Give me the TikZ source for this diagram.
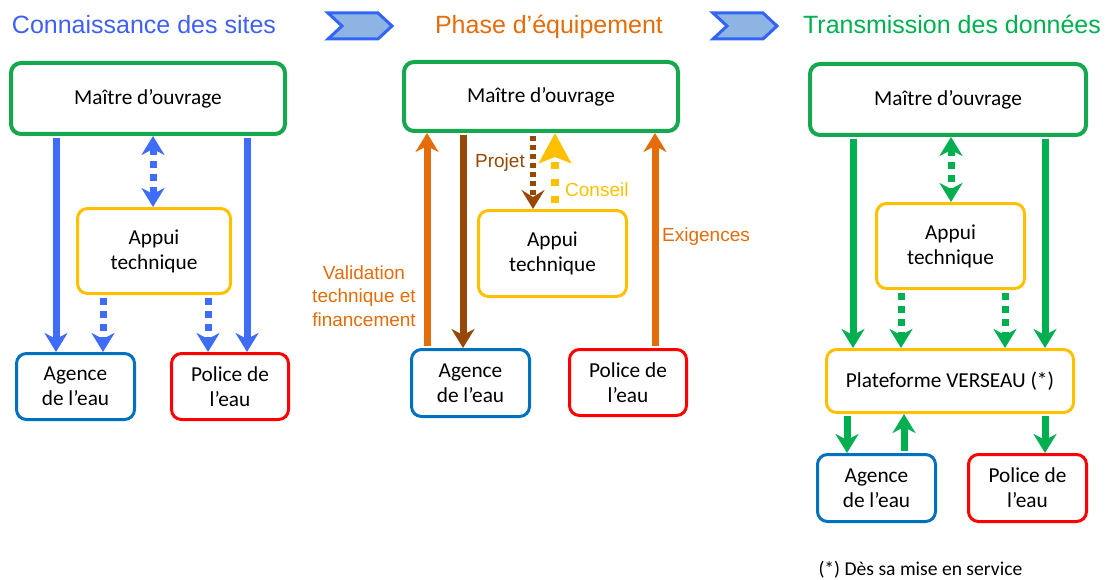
\documentclass[tikz,border=0pt]{standalone}
\usepackage{fontspec}
\setmainfont{Carlito}
\newfontfamily\arialf{Liberation Sans}
\usetikzlibrary{arrows.meta}

\definecolor{hblue}{RGB}{64,96,245}
\definecolor{chevfill}{RGB}{142,180,227}
\definecolor{chevline}{RGB}{50,100,245}
\definecolor{horange}{RGB}{228,108,10}
\definecolor{hgreen}{RGB}{0,176,80}
\definecolor{mgreen}{RGB}{22,168,78}
\definecolor{ayellow}{RGB}{255,192,0}
\definecolor{ablue}{RGB}{0,112,192}
\definecolor{ared}{RGB}{255,0,0}
\definecolor{arrblue}{RGB}{64,108,250}
\definecolor{abrown}{RGB}{151,72,6}

\tikzset{
  box/.style={draw, rounded corners=10pt, line width=3pt, fill=white, align=center,
    inner sep=0pt, font=\fontsize{21.3}{25}\selectfont},
  mbox/.style={box, draw=mgreen, line width=4pt},
  abox/.style={box, draw=ayellow},
  agbox/.style={box, draw=ablue},
  pobox/.style={box, draw=ared},
  header/.style={anchor=base, font=\arialf\fontsize{25}{30}\selectfont},
  lbl/.style={font=\arialf\fontsize{19}{23.5}\selectfont},
  chev/.style={fill=chevfill, draw=chevline, line width=3pt, line join=miter},
  hd/.tip={Stealth[length=19pt,width=23pt,inset=6pt]},
  solidarr/.style={line width=7pt, -{hd}, shorten <=2pt},
  dotarr/.style={line width=7pt, dash pattern=on 7pt off 6pt, -{hd}, shorten <=3pt},
  dotdbl/.style={line width=7pt, dash pattern=on 7pt off 6pt, {hd}-{hd}},
  footnote/.style={font=\fontsize{19.6}{24}\selectfont, anchor=west}
}

\begin{document}
\begin{tikzpicture}[x=1pt, y=-1pt]
\useasboundingbox (0,0) rectangle (1110,580);

% ---- headers and chevrons ----
\node[header, text=hblue] (h1) at (144,34) {Connaissance des sites};
\node[header, text=horange] (h2) at (549,34) {Phase d’équipement};
\node[header, text=hgreen] (h3) at (952,34) {Transmission des données};
\draw[chev] (328,13) -- (378,13) -- (392,26) -- (378,39) -- (328,39) -- (342,26) -- cycle;
\draw[chev] (713,13) -- (763,13) -- (777,26) -- (763,39) -- (713,39) -- (727,26) -- cycle;

% ---- column 1 ----
\node[mbox, minimum width=274pt, minimum height=71pt] (m1) at (148,98.5) {Maître d’ouvrage};
\node[abox, minimum width=153pt, minimum height=85pt] (ap1) at (154,251) {Appui\\technique};
\node[agbox, minimum width=118pt, minimum height=66pt] (ag1) at (75.5,386.5) {Agence\\de l’eau};
\node[pobox, minimum width=117pt, minimum height=66pt] (po1) at (230,386.5) {Police de\\l’eau};

\begin{scope}[arrblue]
\draw[solidarr] (m1.south -| 56,0) -- (ag1.north -| 56,0);
\draw[solidarr] (m1.south -| 247,0) -- (po1.north -| 247,0);
\draw[dotdbl] (m1.south -| 153,0) -- (ap1.north -| 153,0);
\draw[dotarr] (ap1.south -| 103,0) -- (ag1.north -| 103,0);
\draw[dotarr] (ap1.south -| 208,0) -- (po1.north -| 208,0);
\end{scope}

% ---- column 2 ----
\node[mbox, minimum width=274pt, minimum height=69pt] (m2) at (541,96.5) {Maître d’ouvrage};
\node[abox, minimum width=148pt, minimum height=86pt] (ap2) at (552.5,253.5) {Appui\\technique};
\node[agbox, minimum width=118pt, minimum height=67pt] (ag2) at (470.5,383) {Agence\\de l’eau};
\node[pobox, minimum width=117pt, minimum height=66pt] (po2) at (628,382.5) {Police de\\l’eau};

\draw[solidarr, horange] (ag2.north -| 427,0) -- (m2.south -| 427,0);
\draw[solidarr, abrown] (m2.south -| 463,0) -- (ag2.north -| 463,0);
\draw[abrown, line width=5.5pt, dash pattern=on 5pt off 4pt, shorten <=3pt,
  -{Stealth[length=19pt,width=23pt,inset=7pt]}] (m2.south -| 533,0) -- (ap2.north -| 533,0);
\draw[ayellow, line width=8pt, dash pattern=on 7pt off 10pt, shorten <=6pt,
  -{Stealth[length=30pt,width=32pt,inset=6pt]}] (ap2.north -| 555,0) -- (m2.south -| 555,0);
\draw[solidarr, horange] (po2.north -| 655,0) -- (m2.south -| 655,0);

\node[lbl, text=abrown, anchor=east, inner sep=0pt] (projet) at (525,163) {Projet};
\node[lbl, text=ayellow, anchor=west, inner sep=0pt] (conseil) at (565,190) {Conseil};
\node[lbl, text=horange, anchor=west, inner sep=0pt] (exig) at (662,237) {Exigences};
\node[lbl, text=horange, align=center] (valid) at (364,296) {Validation\\technique et\\financement};

% ---- column 3 ----
\node[mbox, minimum width=276pt, minimum height=71pt] (m3) at (948,99.5) {Maître d’ouvrage};
\node[abox, minimum width=148pt, minimum height=85pt] (ap3) at (950.5,246) {Appui\\technique};
\node[abox, minimum width=247pt, minimum height=63pt] (pl3) at (950,381) {Plateforme VERSEAU (*)};
\node[agbox, minimum width=118pt, minimum height=67pt] (ag3) at (876.5,488) {Agence\\de l’eau};
\node[pobox, minimum width=118pt, minimum height=67pt] (po3) at (1027.5,488) {Police de\\l’eau};

\begin{scope}[hgreen]
\draw[solidarr] (m3.south -| 853,0) -- (pl3.north -| 853,0);
\draw[solidarr] (m3.south -| 1045,0) -- (pl3.north -| 1045,0);
\draw[dotdbl] (m3.south -| 951,0) -- (ap3.north -| 951,0);
\draw[dotarr] (ap3.south -| 901,0) -- (pl3.north -| 901,0);
\draw[dotarr] (ap3.south -| 1005,0) -- (pl3.north -| 1005,0);
\draw[solidarr] (pl3.south -| 847,0) -- (ag3.north -| 847,0);
\draw[solidarr] (ag3.north -| 904,0) -- (pl3.south -| 904,0);
\draw[solidarr] (pl3.south -| 1045,0) -- (po3.north -| 1045,0);
\end{scope}

\node[footnote] (note) at (815,570) {(*) Dès sa mise en service};

\end{tikzpicture}
\end{document}
